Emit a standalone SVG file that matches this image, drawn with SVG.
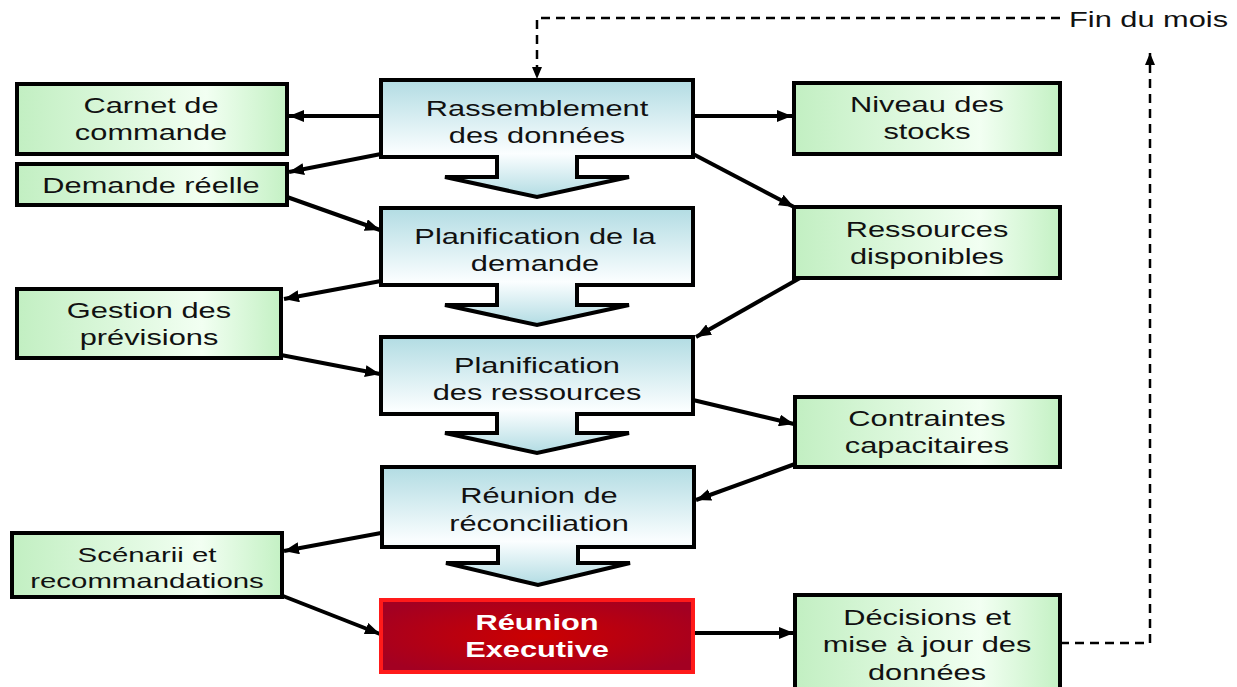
<svg xmlns="http://www.w3.org/2000/svg" width="1237" height="687" viewBox="0 0 1237 687">
<defs>
<linearGradient id="blueGrad" x1="0" y1="0" x2="0" y2="1">
<stop offset="0" stop-color="#b2dce3"/>
<stop offset="0.63" stop-color="#fbfeff"/>
<stop offset="1" stop-color="#b2dce3"/>
</linearGradient>
<linearGradient id="greenGrad" x1="0" y1="0" x2="1" y2="0">
<stop offset="0" stop-color="#c2efc2"/>
<stop offset="0.7" stop-color="#f2fff2"/>
<stop offset="1" stop-color="#c4f1c4"/>
</linearGradient>
<radialGradient id="redGrad" cx="0.5" cy="0.5" r="0.6">
<stop offset="0" stop-color="#cc0000"/>
<stop offset="1" stop-color="#a30022"/>
</radialGradient>
<marker id="arr" viewBox="0 0 15 12" refX="15" refY="6" markerWidth="15" markerHeight="12" markerUnits="userSpaceOnUse" orient="auto">
<path d="M0,0 L15,6 L0,12 Z" fill="#000"/>
</marker>
<marker id="arrd" viewBox="0 0 12 10" refX="12" refY="5" markerWidth="12" markerHeight="10" markerUnits="userSpaceOnUse" orient="auto">
<path d="M0,0 L12,5 L0,10 Z" fill="#000"/>
</marker>
<style>
.green{fill:url(#greenGrad);stroke:#000;stroke-width:4}
.blue{fill:url(#blueGrad);stroke:#000;stroke-width:4;stroke-linejoin:miter}
.red{fill:url(#redGrad);stroke:#ff1a1a;stroke-width:4}
.t{font-family:"Liberation Sans",Arial,sans-serif;font-size:22px;fill:#111;text-anchor:middle}
.ts{font-family:"Liberation Sans",Arial,sans-serif;font-size:21px;fill:#111;text-anchor:middle}
.tw{font-family:"Liberation Sans",Arial,sans-serif;font-size:22px;font-weight:bold;fill:#fff;text-anchor:middle}
.tf{font-family:"Liberation Sans",Arial,sans-serif;font-size:22px;fill:#111}
.c{fill:none;stroke:#000;stroke-width:4;marker-end:url(#arr)}
.d{fill:none;stroke:#000;stroke-width:2.5;stroke-dasharray:9 6;marker-end:url(#arrd)}
</style>
</defs>

<g id="connectors">
<line class="c" x1="381" y1="116" x2="289" y2="116"/>
<line class="c" x1="693" y1="116" x2="792" y2="116"/>
<line class="c" x1="381" y1="154" x2="289" y2="172"/>
<line class="c" x1="693" y1="154" x2="794" y2="207"/>
<line class="c" x1="287" y1="197" x2="380" y2="230"/>
<line class="c" x1="381" y1="281" x2="284" y2="299"/>
<line class="c" x1="800" y1="278" x2="696" y2="337"/>
<line class="c" x1="281" y1="355" x2="380" y2="374"/>
<line class="c" x1="693" y1="400" x2="794" y2="424"/>
<line class="c" x1="795" y1="464" x2="696" y2="500"/>
<line class="c" x1="381" y1="533" x2="284" y2="551"/>
<line class="c" x1="283" y1="596" x2="380" y2="634"/>
<line class="c" x1="693" y1="633" x2="794" y2="633"/>
<path class="d" d="M1060,643 H1150 V53"/>
<path class="d" d="M1060,18 H537 V79"/>
</g>

<g id="n-rassemblement">
<path class="blue" d="M381,80 H693 V157 H577 V177 H629 L537,197 L445,177 H497 V157 H381 Z"/>
<text class="t" transform="translate(537,0) scale(1.4,1)"><tspan x="0" y="116">Rassemblement</tspan><tspan x="0" y="143">des données</tspan></text>
</g>
<g id="n-planif-demande">
<path class="blue" d="M381,208 H693 V285 H577 V305 H629 L537,325 L445,305 H497 V285 H381 Z"/>
<text class="t" transform="translate(535,0) scale(1.4,1)"><tspan x="0" y="244">Planification de la</tspan><tspan x="0" y="271">demande</tspan></text>
</g>
<g id="n-planif-ressources">
<path class="blue" d="M381,337 H693 V414 H577 V433 H629 L537,453 L445,433 H497 V414 H381 Z"/>
<text class="t" transform="translate(537,0) scale(1.4,1)"><tspan x="0" y="373">Planification</tspan><tspan x="0" y="400">des ressources</tspan></text>
</g>
<g id="n-reconciliation">
<path class="blue" d="M382,467 H694 V547 H578 V563 H630 L538,585 L446,563 H498 V547 H382 Z"/>
<text class="t" transform="translate(539,0) scale(1.4,1)"><tspan x="0" y="503">Réunion de</tspan><tspan x="0" y="531">réconciliation</tspan></text>
</g>
<g id="n-executive">
<rect class="red" x="381" y="600" width="312" height="72"/>
<text class="tw" transform="translate(537,0) scale(1.4,1)"><tspan x="0" y="630">Réunion</tspan><tspan x="0" y="657">Executive</tspan></text>
</g>

<g id="n-carnet">
<rect class="green" x="17" y="84" width="270" height="70"/>
<text class="t" transform="translate(151,0) scale(1.4,1)"><tspan x="0" y="113">Carnet de</tspan><tspan x="0" y="140">commande</tspan></text>
</g>
<g id="n-demande-reelle">
<rect class="green" x="17" y="164" width="270" height="41"/>
<text class="t" transform="translate(151,0) scale(1.4,1)"><tspan x="0" y="193">Demande réelle</tspan></text>
</g>
<g id="n-gestion">
<rect class="green" x="17" y="289" width="264" height="69"/>
<text class="t" transform="translate(149,0) scale(1.4,1)"><tspan x="0" y="318">Gestion des</tspan><tspan x="0" y="345">prévisions</tspan></text>
</g>
<g id="n-scenarii">
<rect class="green" x="12" y="533" width="270" height="64"/>
<text class="ts" transform="translate(147,0) scale(1.4,1)"><tspan x="0" y="562">Scénarii et</tspan><tspan x="0" y="588">recommandations</tspan></text>
</g>

<g id="n-niveau">
<rect class="green" x="794" y="83" width="266" height="71"/>
<text class="t" transform="translate(927,0) scale(1.4,1)"><tspan x="0" y="112">Niveau des</tspan><tspan x="0" y="139">stocks</tspan></text>
</g>
<g id="n-ressources">
<rect class="green" x="794" y="207" width="266" height="71"/>
<text class="t" transform="translate(927,0) scale(1.4,1)"><tspan x="0" y="237">Ressources</tspan><tspan x="0" y="264">disponibles</tspan></text>
</g>
<g id="n-contraintes">
<rect class="green" x="795" y="397" width="265" height="70"/>
<text class="t" transform="translate(927,0) scale(1.4,1)"><tspan x="0" y="426">Contraintes</tspan><tspan x="0" y="453">capacitaires</tspan></text>
</g>
<g id="n-decisions">
<rect class="green" x="795" y="595" width="265" height="100"/>
<text class="t" transform="translate(927,0) scale(1.4,1)"><tspan x="0" y="625">Décisions et</tspan><tspan x="0" y="652">mise à jour des</tspan><tspan x="0" y="680">données</tspan></text>
</g>

<g id="label-fin">
<text class="tf" transform="translate(1069,0) scale(1.4,1)"><tspan x="0" y="27">Fin du mois</tspan></text>
</g>
</svg>
